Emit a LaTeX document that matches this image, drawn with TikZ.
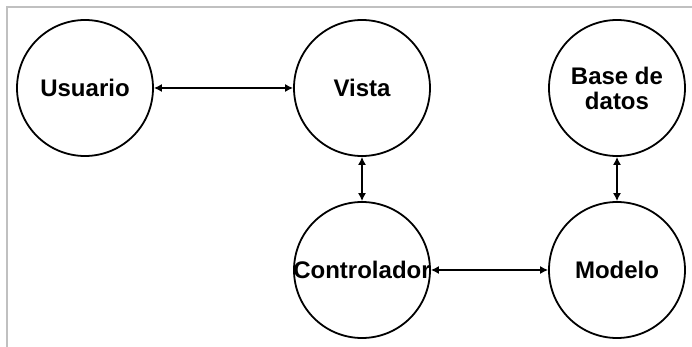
\documentclass[tikz,border=0pt]{standalone}
\usepackage{fontspec}
\setmainfont{Liberation Sans}
\usetikzlibrary{arrows.meta}
\definecolor{framegray}{RGB}{192,192,192}

\begin{document}
\begin{tikzpicture}[x=0.5pt,y=-0.5pt,
    actor/.style={draw,circle,line width=0.9pt,minimum size=68pt,inner sep=0pt},
    tag/.style={font=\bfseries\fontsize{12}{12.5}\selectfont,align=center},
    link/.style={line width=0.7pt,{Latex[length=4pt,width=4pt]}-{Latex[length=4pt,width=4pt]}}]
    \useasboundingbox (0,0) rectangle (692,347);

    % Frame
    \draw[framegray,line width=1pt] (7,347) -- (7,7) -- (692,7);

    % Components
    \node[actor,label={[tag]center:Usuario}] (usuario) at (85,88) {};
    \node[actor,label={[tag]center:Vista}] (vista) at (362,88) {};
    \node[actor,label={[tag]center:Base de\\datos}] (datos) at (617,88) {};
    \node[actor,label={[tag]center:Controlador}] (control) at (362,270) {};
    \node[actor,label={[tag]center:Modelo}] (modelo) at (617,270) {};

    % Links
    \draw[link] (usuario) -- (vista);
    \draw[link] (vista) -- (control);
    \draw[link] (datos) -- (modelo);
    \draw[link] (control) -- (modelo);
\end{tikzpicture}
\end{document}
